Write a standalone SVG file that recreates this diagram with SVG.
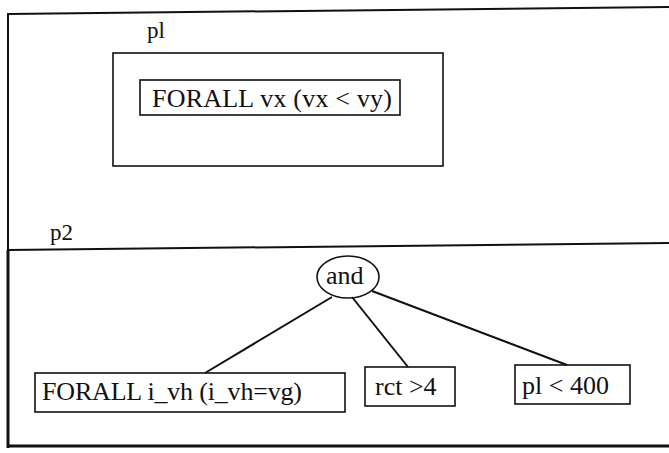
<svg xmlns="http://www.w3.org/2000/svg" width="669" height="453" viewBox="0 0 669 453">
<style>
text{font-family:"Liberation Serif",serif;fill:#111}
.lbl{font-size:23px}
.t{font-size:26px}
.box{fill:none;stroke:#111;stroke-width:1.6}
.frame{fill:none;stroke:#111;stroke-width:2}
.edge{stroke:#111;stroke-width:2;fill:none}
</style>
<rect width="669" height="453" fill="#fff"/>
<g id="frame">
<line class="frame" x1="8" y1="14" x2="669" y2="7"/>
<line class="frame" x1="8" y1="13" x2="8" y2="250"/>
<line class="frame" x1="8" y1="250" x2="669" y2="243"/>
<line x1="8" y1="250" x2="8" y2="448" stroke="#111" stroke-width="3"/>
<line x1="7" y1="446" x2="669" y2="446" stroke="#111" stroke-width="3"/>
</g>
<g id="p1">
<text class="lbl" x="147" y="38">pl</text>
<rect class="box" x="113" y="53" width="330" height="113"/>
</g>
<g id="forall-vx">
<rect class="box" x="140" y="80" width="260" height="35"/>
<text class="t" x="152" y="107" textLength="240">FORALL vx (vx &lt; vy)</text>
</g>
<g id="p2">
<text class="lbl" x="50" y="240">p2</text>
</g>
<g id="connectors">
<line class="edge" x1="332" y1="297" x2="205" y2="373"/>
<line class="edge" x1="352" y1="297" x2="408" y2="367"/>
<line class="edge" x1="372" y1="291" x2="567" y2="365"/>
</g>
<g id="and">
<ellipse class="box" cx="348" cy="277" rx="31" ry="21" fill="#fff"/>
<text class="t" x="326" y="284">and</text>
</g>
<g id="forall-ivh">
<rect class="box" x="35" y="373" width="310" height="39"/>
<text class="t" x="42" y="400" textLength="260">FORALL i_vh (i_vh=vg)</text>
</g>
<g id="rct">
<rect class="box" x="365" y="367" width="90" height="39"/>
<text class="t" x="375" y="395">rct &gt;4</text>
</g>
<g id="pl400">
<rect class="box" x="515" y="365" width="115" height="39"/>
<text class="t" x="522" y="394">pl &lt; 400</text>
</g>
</svg>
